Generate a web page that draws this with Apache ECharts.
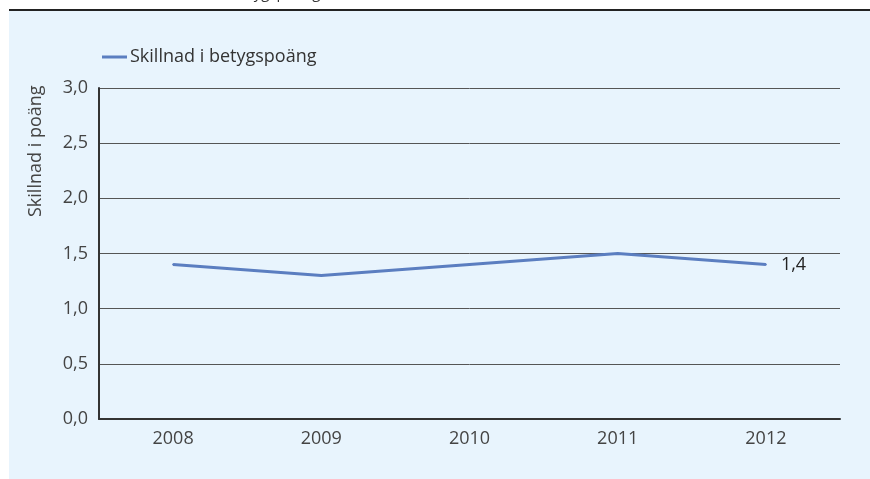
<!DOCTYPE html>
<html><head><meta charset="utf-8">
<script src="https://cdn.jsdelivr.net/npm/echarts@6/dist/echarts.min.js"></script>
<style>html,body{margin:0;padding:0;background:#fff}#c{width:870px;height:479px}</style>
</head><body><div id="c"></div>
<script>
var categories = ['2008','2009','2010','2011','2012'];
var values = [1.4, 1.3, 1.4, 1.5, 1.4];
var yTicks = [0, 0.5, 1.0, 1.5, 2.0, 2.5, 3.0];
var seriesName = 'Skillnad i betygspoäng';
var yAxisName = 'Skillnad i poäng';
var titleText = 'Skillnad i betygspoäng';

var font = '"Open Sans", sans-serif';
function fmt(v){ return Number(v).toFixed(1).replace('.', ','); }
var lastIdx = values.length - 1;
var seriesData = values.map(function(v, i){
  return i === lastIdx
    ? {value: v, label: {show: true}}
    : v;
});

var chart = echarts.init(document.getElementById('c'), null, {renderer:'canvas'});
chart.setOption({
  backgroundColor: '#ffffff',
  animation: false,
  graphic: [
    {type:'rect', left:9, top:11, shape:{width:861, height:468}, style:{fill:'#e8f4fd'}, z:-10},
    {type:'rect', left:9, top:9, shape:{width:861, height:2}, style:{fill:'#222'}, z:-9},
    {type:'text', x:165, y:1, style:{text:titleText, fill:'#333', font:'15px ' + font, textVerticalAlign:'bottom'}, z:-11},
    {type:'text', x:27, y:217, rotation:Math.PI/2, style:{text:yAxisName, fill:'#444', font:'18px ' + font, textVerticalAlign:'top'}}
  ],
  legend: {
    left: 97, top: 43,
    itemWidth: 25, itemHeight: 3, itemGap: 6,
    icon: 'rect',
    itemStyle: {color:'#5b7ec0', opacity:1},
    textStyle: {color:'#333', fontSize:18, fontFamily:font, padding:[0,0,0,-2]},
    data: [seriesName]
  },
  grid: {left:99, right:30, top:88, bottom:60, containLabel:false},
  xAxis: {
    type:'category', data:categories, boundaryGap:true,
    axisLine:{lineStyle:{color:'#333', width:2}},
    axisTick:{show:false},
    axisLabel:{color:'#444', fontSize:18, fontFamily:font, margin:11}
  },
  yAxis: {
    type:'value', min:0, max:3, interval:0.5,
    axisLine:{show:true, lineStyle:{color:'#333', width:2}},
    axisTick:{show:false},
    splitLine:{lineStyle:{color:'#555', width:1}},
    axisLabel:{color:'#444', fontSize:18, fontFamily:font, margin:11, formatter:fmt}
  },
  series: [{
    name: seriesName, type:'line', data: seriesData,
    symbol:'circle', symbolSize: 2, showSymbol: true,
    lineStyle:{color:'#5b7ec0', width:3}, itemStyle:{color:'#5b7ec0'},
    label:{show:false, position:'right', distance:14, color:'#222', fontSize:18, fontFamily:font,
      formatter:function(p){ return fmt(p.value); }}
  }]
});
</script></body></html>
